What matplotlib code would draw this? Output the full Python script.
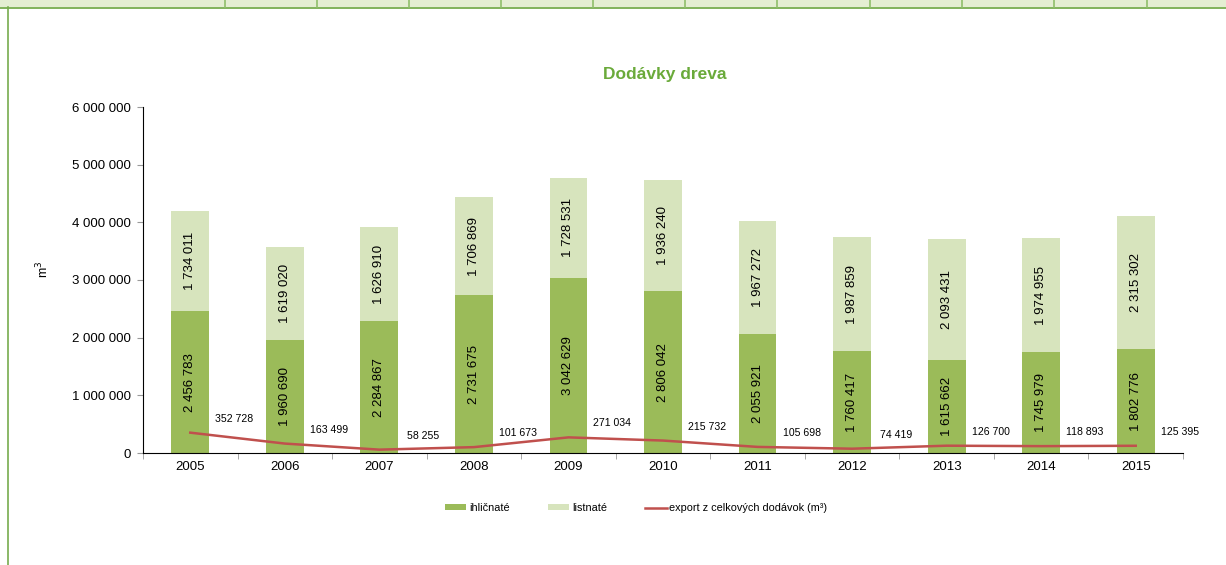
import numpy as np
import matplotlib.pyplot as plt
from matplotlib.patches import Rectangle
from matplotlib.lines import Line2D

#--- data ---
years = ['2005', '2006', '2007', '2008', '2009', '2010', '2011', '2012', '2013', '2014', '2015']
ihlicnate = [2456783, 1960690, 2284867, 2731675, 3042629, 2806042, 2055921, 1760417, 1615662, 1745979, 1802776]
listnate = [1734011, 1619020, 1626910, 1706869, 1728531, 1936240, 1967272, 1987859, 2093431, 1974955, 2315302]
export = [352728, 163499, 58255, 101673, 271034, 215732, 105698, 74419, 126700, 118893, 125395]

c_dark = '#9bbb59'; c_light = '#d7e4bd'; c_line = '#c0504d'
plt.rcParams['font.family'] = ['Liberation Sans', 'DejaVu Sans']

def fmt(v):
    return f'{v:,}'.replace(',', ' ')

fig = plt.figure(figsize=(12.26, 5.65), dpi=100)

#--- top strip / frame lines ---
fig.patches.append(Rectangle((0, 1-7/565), 1, 7/565, transform=fig.transFigure,
                             facecolor='#e4eed2', edgecolor='none'))
fig.add_artist(Line2D([0, 1], [1-7.5/565]*2, transform=fig.transFigure, color='#77ac4e', lw=1.3))
for xs in [225, 317, 409, 501, 593, 685, 777, 870, 962, 1054, 1147]:
    fig.add_artist(Line2D([xs/1226]*2, [1-7/565, 1], transform=fig.transFigure, color='#8fbf6a', lw=1.2))
fig.add_artist(Line2D([8/1226]*2, [0, 1-7/565], transform=fig.transFigure, color='#77ac4e', lw=1.2))

ax = fig.add_axes([143/1226, 1-453/565, 1040/1226, 346/565])
x = np.arange(len(years))
w = 0.4
b1 = ax.bar(x, ihlicnate, w, color=c_dark, label='ihličnaté')
b2 = ax.bar(x, listnate, w, bottom=ihlicnate, color=c_light, label='listnaté')
l1, = ax.plot(x, export, color=c_line, lw=1.8, label='export z celkových dodávok (m³)')

for i in range(len(years)):
    ax.text(x[i], ihlicnate[i]/2, fmt(ihlicnate[i]), rotation=90, ha='center', va='center', fontsize=9.5)
    ax.text(x[i], ihlicnate[i] + listnate[i]/2, fmt(listnate[i]), rotation=90, ha='center', va='center', fontsize=9.5)
    ax.annotate(fmt(export[i]), (x[i], export[i]), xytext=(44, 14), textcoords='offset pixels',
                ha='center', va='center', fontsize=7.6)

ax.set_xlim(-0.5, len(years)-0.5)
ax.set_ylim(0, 6000000)
ax.set_yticks(np.arange(0, 6000001, 1000000))
ax.set_yticklabels([fmt(v) for v in range(0, 6000001, 1000000)], fontsize=9.5)
ax.set_xticks(x)
ax.set_xticklabels(years, fontsize=9.5)
ax.tick_params(axis='x', length=0, pad=6)
ax.set_xticks(np.arange(-0.5, len(years), 1), minor=True)
ax.tick_params(axis='x', which='minor', length=4, color='#999999')
ax.tick_params(axis='y', length=4, color='#999999', pad=5)
ax.spines['top'].set_visible(False)
ax.spines['right'].set_visible(False)
ax.set_ylabel('m$^3$', fontsize=9)
ax.yaxis.set_label_coords(-0.088, 0.53)

fig.text(665/1226, 1-74/565, 'Dodávky dreva', ha='center', va='center',
         fontsize=12.5, fontweight='bold', color='#6aaa3a')

fig.legend([b1, b2, l1], ['ihličnaté', 'listnaté', 'export z celkových dodávok (m³)'],
           loc='center', bbox_to_anchor=(636/1226, 1-508/565), ncol=3, frameon=False,
           fontsize=7.8, handlelength=2.0, handleheight=0.5, handletextpad=0.25, columnspacing=3.5)

fig.savefig('out.png', dpi=100)
